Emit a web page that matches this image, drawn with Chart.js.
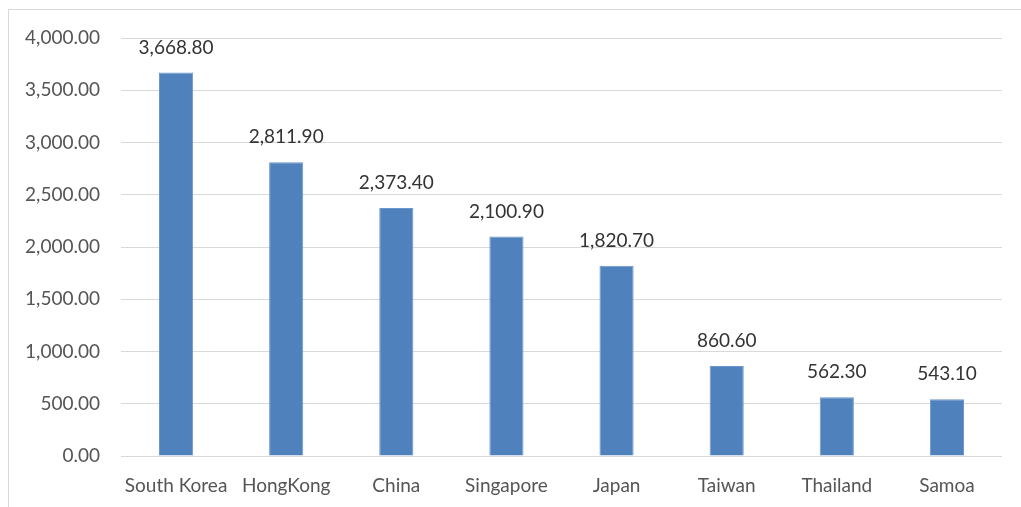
<!DOCTYPE html>
<html>
<head>
<meta charset="utf-8">
<script src="https://cdn.jsdelivr.net/npm/chart.js@4/dist/chart.umd.min.js"></script>
<style>
  html, body { margin: 0; padding: 0; background: #fff; }
  #wrap { position: relative; width: 1021px; height: 507px; overflow: hidden; }
  #frame { position: absolute; left: 8px; top: 9px; width: 1100px; height: 600px; border: 1px solid #d9d9d9; box-sizing: border-box; }
  #c { position: absolute; left: 0; top: 0; }
</style>
</head>
<body>
<div id="wrap">
  <div id="frame"></div>
  <canvas id="c" width="1021" height="507"></canvas>
</div>
<script>
const countries = ['South Korea', 'HongKong', 'China', 'Singapore', 'Japan', 'Taiwan', 'Thailand', 'Samoa'];
const amounts = [3668.80, 2811.90, 2373.40, 2100.90, 1820.70, 860.60, 562.30, 543.10];
const yTicks = [0, 500, 1000, 1500, 2000, 2500, 3000, 3500, 4000];

const FONT = 'Lato, "Liberation Sans", sans-serif';

function fmt(v) {
    return v.toLocaleString('en-US', { minimumFractionDigits: 2, maximumFractionDigits: 2 });
}

// value labels above each bar
const barLabels = {
    id: 'barLabels',
    afterDatasetsDraw(chart) {
        const ctx = chart.ctx;
        const meta = chart.getDatasetMeta(0);
        ctx.save();
        ctx.font = '19px ' + FONT;
        ctx.fillStyle = '#333333';
        ctx.textAlign = 'center';
        ctx.textBaseline = 'middle';
        meta.data.forEach((bar, i) => {
            ctx.fillText(fmt(amounts[i]), bar.x, bar.y - 25);
        });
        ctx.restore();
    }
};

const ctx = document.getElementById('c').getContext('2d');
const chart = new Chart(ctx, {
    type: 'bar',
    data: {
        labels: countries,
        datasets: [{
            data: amounts,
            backgroundColor: '#4f81bd',
            borderColor: '#6b96cb',
            borderWidth: 1,
            barPercentage: 0.31,
            categoryPercentage: 1
        }]
    },
    options: {
        responsive: false,
        animation: false,
        layout: { padding: { left: 0, right: 19, top: 38, bottom: 0 } },
        plugins: { legend: { display: false }, tooltip: { enabled: false } },
        scales: {
            x: {
                grid: { display: false, drawTicks: false },
                border: { display: false },
                ticks: { color: '#555555', font: { family: FONT, size: 19 }, padding: 18, maxRotation: 0 },
                afterFit(axis) { axis.height = 51; }
            },
            y: {
                min: 0,
                max: 4000,
                afterBuildTicks(axis) { axis.ticks = yTicks.map(v => ({ value: v })); },
                grid: { color: '#d9d9d9', lineWidth: 1, drawTicks: false },
                border: { display: false },
                ticks: { color: '#555555', font: { family: FONT, size: 19 }, padding: 21, callback: v => fmt(v) },
                afterFit(axis) { axis.width = 121; }
            }
        }
    },
    plugins: [barLabels]
});
</script>
</body>
</html>
